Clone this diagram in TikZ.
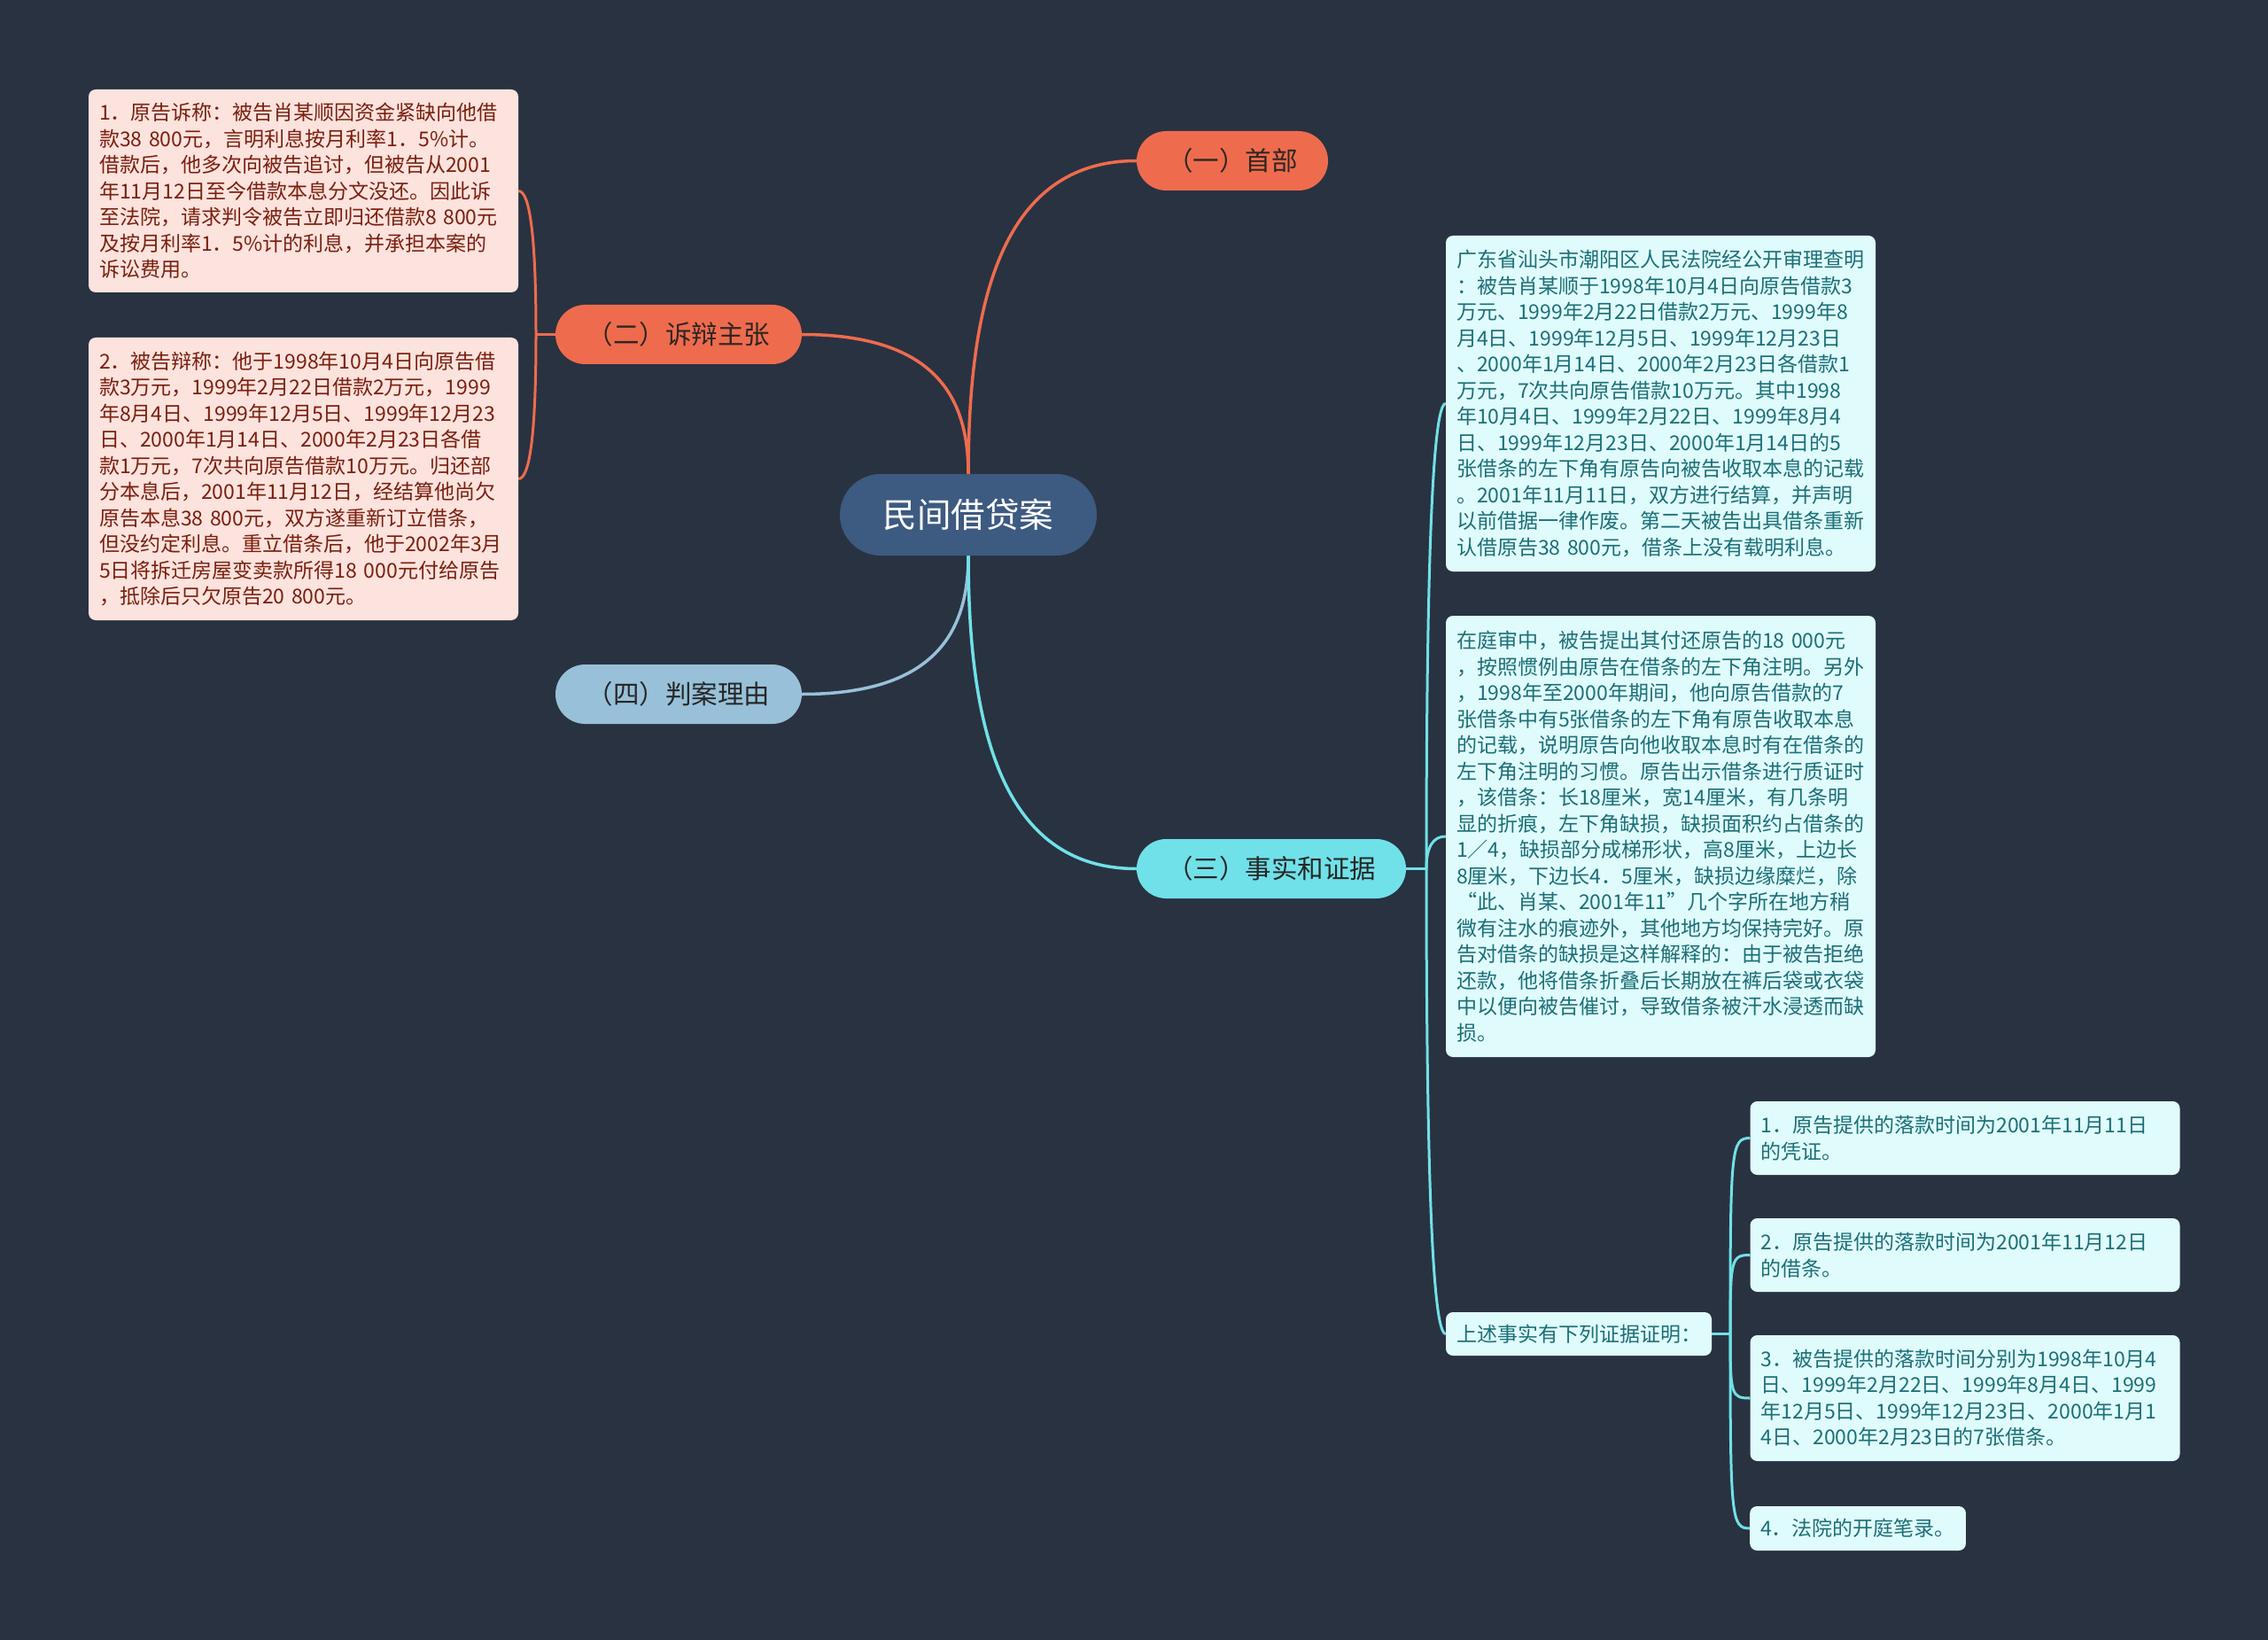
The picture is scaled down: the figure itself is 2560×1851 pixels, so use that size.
\documentclass[tikz,border=0pt]{standalone}
\usepackage{fontspec}
\setmainfont{Noto Sans CJK SC}
\usetikzlibrary{calc,backgrounds}
\definecolor{bg}{HTML}{293241}
\definecolor{rootc}{HTML}{3D5A80}
\definecolor{orangec}{HTML}{EE6C4D}
\definecolor{bluec}{HTML}{98C1D9}
\definecolor{cyanc}{HTML}{70E1E8}
\definecolor{pinkfill}{HTML}{FCE3DD}
\definecolor{redtext}{HTML}{7A1F0F}
\definecolor{cyanfill}{HTML}{E0FBFC}
\definecolor{tealtext}{HTML}{1B6F77}
\definecolor{darktext}{HTML}{2E2624}
\newcommand\vhcurve[5]{\draw[#1] (#2) .. controls ($(#2)!#4!(#2|-#3)$) and ($(#3)!#5!(#2|-#3)$) .. (#3);}
\tikzset{
  rootnode/.style={fill=rootc, text=white, rounded corners=46pt, minimum height=92pt, minimum width=290pt, inner xsep=0pt, font=\fontsize{38.5}{44}\selectfont},
  lvlone/.style={rounded corners=33.5pt, minimum height=67pt, inner xsep=0pt, text=darktext, font=\fontsize{29.5}{35}\selectfont},
  detail/.style={rounded corners=8pt, inner xsep=12pt, inner ysep=6pt, align=left, font=\fontsize{23}{29.5}\selectfont},
  ldet/.style={detail, fill=pinkfill, text=redtext, text width=461pt},
  rdet/.style={detail, fill=cyanfill, text=tealtext, text width=461pt},
  rsmall/.style={detail, fill=cyanfill, text=tealtext},
  mainline/.style={line width=3.5pt},
  brline/.style={line width=3pt}
}
\begin{document}
\begin{tikzpicture}[x=1pt,y=-1pt]
\useasboundingbox (0,0) rectangle (2560,1851);
% root
\node[rootnode] (root) at (1093,581) {民间借贷案};
% level one
\node[lvlone, fill=orangec, minimum width=216pt] (n1) at (1391,181.5) {（一）首部};
\node[lvlone, fill=orangec, minimum width=278pt] (n2) at (766,377.5) {（二）诉辩主张};
\node[lvlone, fill=bluec, text=black!85, minimum width=278pt] (n4) at (766,783.5) {（四）判案理由};
\node[lvlone, fill=cyanc, text=black!85, minimum width=304pt] (n3) at (1435,980.5) {（三）事实和证据};
% left details
\node[ldet, minimum height=229pt] (l1) at (342.5,215.5) {1．原告诉称：被告肖某顺因资金紧缺向他借\\款38~800元，言明利息按月利率1．5\%计。\\借款后，他多次向被告追讨，但被告从2001\\年11月12日至今借款本息分文没还。因此诉\\至法院，请求判令被告立即归还借款8~800元\\及按月利率1．5\%计的利息，并承担本案的\\诉讼费用。};
\node[ldet, minimum height=319pt] (l2) at (342.5,540.5) {2．被告辩称：他于1998年10月4日向原告借\\款3万元，1999年2月22日借款2万元，1999\\年8月4日、1999年12月5日、1999年12月23\\日、2000年1月14日、2000年2月23日各借\\款1万元，7次共向原告借款10万元。归还部\\分本息后，2001年11月12日，经结算他尚欠\\原告本息38~800元，双方遂重新订立借条，\\但没约定利息。重立借条后，他于2002年3月\\5日将拆迁房屋变卖款所得18~000元付给原告\\，抵除后只欠原告20~800元。};
% right details
\node[rdet, minimum height=379pt] (ra) at (1874.5,455.5) {广东省汕头市潮阳区人民法院经公开审理查明\\：被告肖某顺于1998年10月4日向原告借款3\\万元、1999年2月22日借款2万元、1999年8\\月4日、1999年12月5日、1999年12月23日\\、2000年1月14日、2000年2月23日各借款1\\万元，7次共向原告借款10万元。其中1998\\年10月4日、1999年2月22日、1999年8月4\\日、1999年12月23日、2000年1月14日的5\\张借条的左下角有原告向被告收取本息的记载\\。2001年11月11日，双方进行结算，并声明\\以前借据一律作废。第二天被告出具借条重新\\认借原告38~800元，借条上没有载明利息。};
\node[rdet, minimum height=498pt] (rb) at (1874.5,944) {在庭审中，被告提出其付还原告的18~000元\\，按照惯例由原告在借条的左下角注明。另外\\，1998年至2000年期间，他向原告借款的7\\张借条中有5张借条的左下角有原告收取本息\\的记载，说明原告向他收取本息时有在借条的\\左下角注明的习惯。原告出示借条进行质证时\\，该借条：长18厘米，宽14厘米，有几条明\\显的折痕，左下角缺损，缺损面积约占借条的\\1／4，缺损部分成梯形状，高8厘米，上边长\\8厘米，下边长4．5厘米，缺损边缘糜烂，除\\“此、肖某、2001年11”几个字所在地方稍\\微有注水的痕迹外，其他地方均保持完好。原\\告对借条的缺损是这样解释的：由于被告拒绝\\还款，他将借条折叠后长期放在裤后袋或衣袋\\中以便向被告催讨，导致借条被汗水浸透而缺\\损。};
\node[rsmall, minimum height=49pt] (sum) at (1782,1505.5) {上述事实有下列证据证明：};
% evidence
\node[rdet, minimum height=83pt] (e1) at (2218,1284.5) {1．原告提供的落款时间为2001年11月11日\\的凭证。};
\node[rdet, minimum height=83pt] (e2) at (2218,1416.5) {2．原告提供的落款时间为2001年11月12日\\的借条。};
\node[rdet, minimum height=142pt] (e3) at (2218,1578) {3．被告提供的落款时间分别为1998年10月4\\日、1999年2月22日、1999年8月4日、1999\\年12月5日、1999年12月23日、2000年1月1\\4日、2000年2月23日的7张借条。};
\node[rsmall, minimum height=50pt, anchor=west] (e4) at (1975,1725) {4．法院的开庭笔录。};
% junctions
\coordinate (jl) at (605,377.5);
\coordinate (jr) at (1610,980.5);
\coordinate (je) at (1953,1505.5);
\begin{scope}[on background layer]
\fill[bg] (0,0) rectangle (2560,1851);
% main curves
\vhcurve{orangec, mainline}{root.north}{n1.west}{0.55}{0.8}
\vhcurve{orangec, mainline}{root.north}{n2.east}{0.55}{0.8}
\vhcurve{bluec, mainline}{root.south}{n4.east}{0.55}{0.8}
\vhcurve{cyanc, mainline}{root.south}{n3.west}{0.55}{0.8}
% left bracket
\draw[orangec, brline] (n2.west) -- (jl);
\vhcurve{orangec, brline}{jl}{l1.east}{0.667}{0.667}
\vhcurve{orangec, brline}{jl}{l2.east}{0.667}{0.667}
% right bracket
\draw[cyanc, brline] (n3.east) -- (jr);
\vhcurve{cyanc, brline}{jr}{ra.west}{0.667}{0.667}
\vhcurve{cyanc, brline}{jr}{rb.west}{0.667}{0.667}
\vhcurve{cyanc, brline}{jr}{sum.west}{0.667}{0.667}
% evidence bracket
\draw[cyanc, brline] (sum.east) -- (je);
\vhcurve{cyanc, brline}{je}{e1.west}{0.95}{0.95}
\vhcurve{cyanc, brline}{je}{e2.west}{0.95}{0.95}
\vhcurve{cyanc, brline}{je}{e3.west}{0.95}{0.95}
\vhcurve{cyanc, brline}{je}{e4.west}{0.95}{0.95}
\end{scope}
\end{tikzpicture}
\end{document}
